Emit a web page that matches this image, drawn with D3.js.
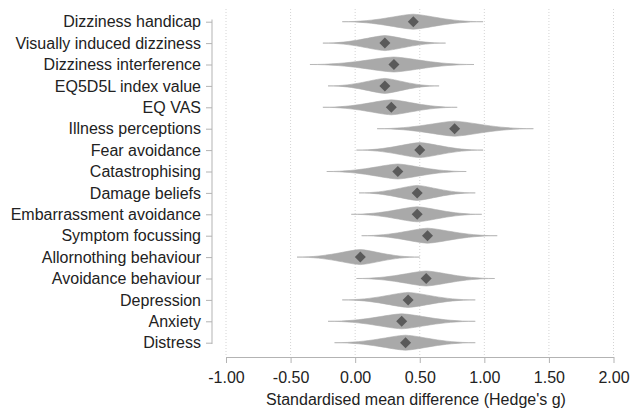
<!DOCTYPE html>
<html>
<head>
<meta charset="utf-8">
<script src="https://cdn.jsdelivr.net/npm/d3@7"></script>
<style>
  body { margin: 0; background: #fff; }
  text { font-family: "Liberation Sans", Arial, sans-serif; }
</style>
</head>
<body>
<script>
// Outcomes, top to bottom
var outcomes = ['Dizziness handicap', 'Visually induced dizziness', 'Dizziness interference',
  'EQ5D5L index value', 'EQ VAS', 'Illness perceptions', 'Fear avoidance', 'Catastrophising',
  'Damage beliefs', 'Embarrassment avoidance', 'Symptom focussing', 'Allornothing behaviour',
  'Avoidance behaviour', 'Depression', 'Anxiety', 'Distress']

// Hedge's g and spindle ends
var est = [0.45, 0.23, 0.30, 0.23, 0.28, 0.77, 0.50, 0.33, 0.48, 0.48, 0.56, 0.04, 0.55, 0.41, 0.36, 0.39]
var lower = [-0.10, -0.25, -0.35, -0.21, -0.25, 0.17, 0.01, -0.22, 0.03, -0.03, 0.05, -0.45, 0.01, -0.10, -0.21, -0.16]
var upper = [0.99, 0.70, 0.92, 0.65, 0.79, 1.38, 0.99, 0.86, 0.93, 0.98, 1.10, 0.50, 1.08, 0.93, 0.93, 0.93]

var xTicks = [-1, -0.5, 0, 0.5, 1, 1.5, 2]

var w = 630
var h = 413

var svg = d3.select('body').append('svg')
  .attr('width', w)
  .attr('height', h)

var xScale = d3.scaleLinear().domain([-1, 2]).range([226, 613.5])
var yScale = d3.scalePoint().domain(outcomes).range([21.7, 342.7])
var axisY = 357

// dotted grid lines
svg.selectAll('.grid')
  .data(xTicks)
  .enter()
  .append('line')
  .attr('x1', function (d) { return xScale(d) })
  .attr('x2', function (d) { return xScale(d) })
  .attr('y1', 9)
  .attr('y2', axisY)
  .attr('stroke', '#d4d4d4')
  .attr('stroke-width', 1)
  .attr('stroke-dasharray', '1,2')

// spindles
var hh = 7.5
function spindle(i) {
  var c = xScale(est[i]), l = xScale(lower[i]), r = xScale(upper[i]), y = yScale(outcomes[i])
  var dl = c - l, dr = r - c
  return 'M' + l + ',' + y +
    'C' + (l + dl * 0.5) + ',' + y + ' ' + (c - dl * 0.22) + ',' + (y - hh * 0.9) + ' ' + c + ',' + (y - hh) +
    'C' + (c + dr * 0.22) + ',' + (y - hh * 0.9) + ' ' + (r - dr * 0.5) + ',' + y + ' ' + r + ',' + y +
    'C' + (r - dr * 0.5) + ',' + y + ' ' + (c + dr * 0.22) + ',' + (y + hh * 0.9) + ' ' + c + ',' + (y + hh) +
    'C' + (c - dl * 0.22) + ',' + (y + hh * 0.9) + ' ' + (l + dl * 0.5) + ',' + y + ' ' + l + ',' + y + 'Z'
}

svg.selectAll('.spindle')
  .data(d3.range(outcomes.length))
  .enter()
  .append('path')
  .attr('d', spindle)
  .attr('fill', '#a9a9a9')
  .attr('stroke', '#a9a9a9')
  .attr('stroke-width', 0.6)

// point estimates
svg.selectAll('.est')
  .data(d3.range(outcomes.length))
  .enter()
  .append('path')
  .attr('d', function (i) {
    var c = xScale(est[i]), y = yScale(outcomes[i]), s = 5.5
    return 'M' + (c - s) + ',' + y + 'L' + c + ',' + (y - s) + 'L' + (c + s) + ',' + y + 'L' + c + ',' + (y + s) + 'Z'
  })
  .attr('fill', '#5a5a5a')

// x axis (plain hyphen for negatives, like the original)
var fmt = d3.format('.2f')
var xAxis = svg.append('g')
  .attr('transform', 'translate(0,' + axisY + ')')
  .call(d3.axisBottom(xScale).tickValues(xTicks)
    .tickFormat(function (d) { return fmt(d).replace('\u2212', '-') })
    .tickSize(6).tickSizeOuter(0))
xAxis.select('.domain').attr('stroke', '#b3b3b3')
xAxis.selectAll('.tick line').attr('stroke', '#b3b3b3')
xAxis.selectAll('.tick text')
  .attr('y', 26)
  .attr('dy', 0)
  .attr('font-size', 16)
  .attr('fill', '#222')
  .attr('font-family', '"Liberation Sans", Arial, sans-serif')

// y axis
var yAxis = svg.append('g')
  .attr('transform', 'translate(212,0)')
  .call(d3.axisLeft(yScale).tickSize(6).tickSizeOuter(0).tickPadding(5))
yAxis.select('.domain').attr('stroke', '#b3b3b3').attr('d', 'M0,19.5V344')
yAxis.selectAll('.tick line').attr('stroke', '#b3b3b3')
yAxis.selectAll('.tick text')
  .attr('font-size', 16)
  .attr('fill', '#222')
  .attr('font-family', '"Liberation Sans", Arial, sans-serif')

// axis title
svg.append('text')
  .attr('x', 416)
  .attr('y', 404.5)
  .attr('text-anchor', 'middle')
  .attr('font-size', 16)
  .attr('fill', '#222')
  .text("Standardised mean difference (Hedge's g)")
</script>
</body>
</html>
